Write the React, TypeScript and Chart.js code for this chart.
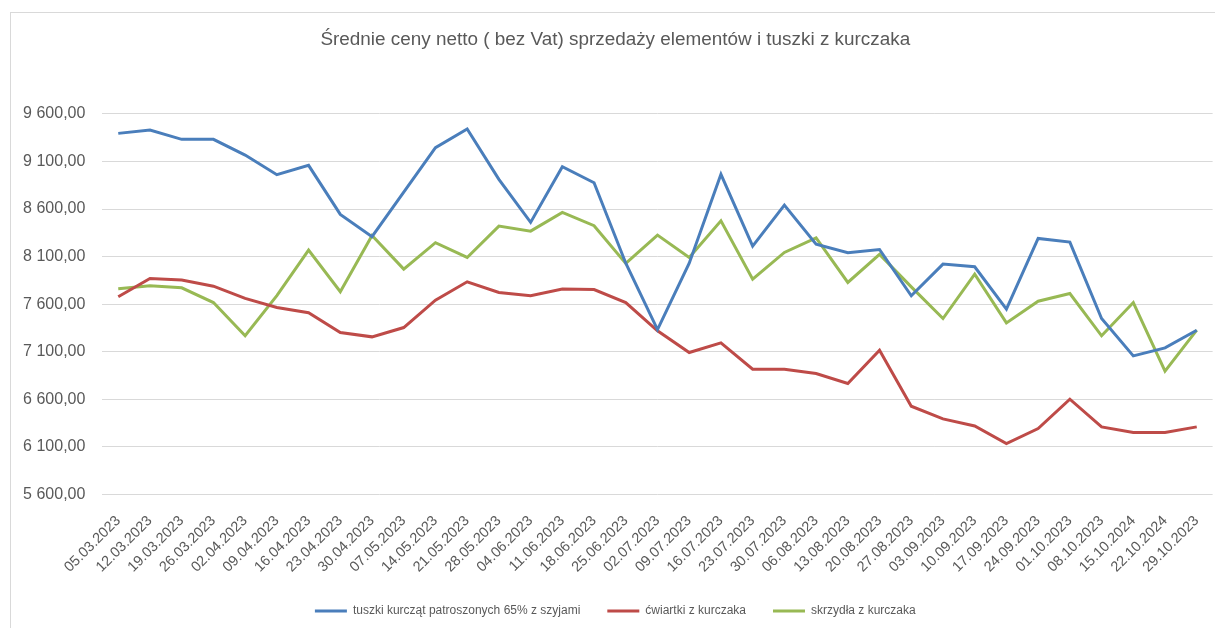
import React, { useEffect, useRef } from "react";
import { Chart, registerables } from "chart.js";

Chart.register(...registerables);

const TITLE = "Średnie ceny netto ( bez Vat) sprzedaży elementów i tuszki z kurczaka";

const categories: string[] = [
  "05.03.2023", "12.03.2023", "19.03.2023", "26.03.2023", "02.04.2023", "09.04.2023",
  "16.04.2023", "23.04.2023", "30.04.2023", "07.05.2023", "14.05.2023", "21.05.2023",
  "28.05.2023", "04.06.2023", "11.06.2023", "18.06.2023", "25.06.2023", "02.07.2023",
  "09.07.2023", "16.07.2023", "23.07.2023", "30.07.2023", "06.08.2023", "13.08.2023",
  "20.08.2023", "27.08.2023", "03.09.2023", "10.09.2023", "17.09.2023", "24.09.2023",
  "01.10.2023", "08.10.2023", "15.10.2024", "22.10.2024", "29.10.2023",
];

const seriesNames: string[] = [
  "tuszki kurcząt patroszonych 65% z szyjami",
  "ćwiartki z kurczaka",
  "skrzydła z kurczaka",
];

const tuszki: number[] = [
  9396, 9432, 9333, 9333, 9168, 8961, 9060, 8544, 8309, 8779,
  9246, 9442, 8912, 8460, 9046, 8877, 8030, 7333, 8030, 8965,
  8210, 8642, 8231, 8140, 8175, 7688, 8021, 7993, 7547, 8291,
  8253, 7449, 7056, 7140, 7326,
];

const cwiartki: number[] = [
  7677, 7870, 7853, 7789, 7660, 7565, 7509, 7302, 7256, 7354,
  7642, 7835, 7723, 7688, 7758, 7754, 7617, 7319, 7091, 7193,
  6916, 6916, 6870, 6765, 7116, 6526, 6393, 6319, 6133, 6291,
  6600, 6309, 6249, 6249, 6309,
];

const skrzydla: number[] = [
  7761, 7793, 7772, 7617, 7267, 7690, 8168, 7730, 8323, 7968,
  8246, 8091, 8421, 8368, 8565, 8425, 8028, 8326, 8091, 8477,
  7863, 8144, 8298, 7828, 8123, 7782, 7449, 7916, 7403, 7631,
  7712, 7267, 7617, 6895, 7326,
];

const seriesColors: string[] = ["#4a7ebb", "#be4b48", "#98b954"];

const Y_MIN = 5600;
const Y_MAX = 9600;
const Y_STEP = 500;

const FONT = "'Liberation Sans', Arial, sans-serif";
const TEXT = "#595959";
const GRID = "#d9d9d9";

function formatPl(v: number): string {
  const n = Math.round(v);
  const s = String(n).replace(/\B(?=(\d{3})+(?!\d))/g, " ");
  return s + ",00";
}

export default function App() {
  const ref = useRef<HTMLCanvasElement | null>(null);

  useEffect(() => {
    const canvas = ref.current;
    if (!canvas) return;
    const values = [tuszki, cwiartki, skrzydla];
    const chart = new Chart(canvas, {
      type: "line",
      data: {
        labels: categories,
        datasets: values.map((d, i) => ({
          label: seriesNames[i],
          data: d,
          borderColor: seriesColors[i],
          backgroundColor: seriesColors[i],
          borderWidth: 3,
          pointRadius: 0,
          tension: 0,
          fill: false,
        })),
      },
      options: {
        responsive: false,
        animation: false,
        layout: { padding: { top: 0, left: 18, right: 2.4, bottom: 1 } },
        plugins: {
          title: {
            display: true,
            text: TITLE,
            color: TEXT,
            font: { family: FONT, size: 18.9, weight: "normal" },
            padding: { top: 28.2, bottom: 63.1 },
          },
          legend: {
            display: true,
            position: "bottom",
            labels: {
              color: TEXT,
              font: { family: FONT, size: 12 },
              boxWidth: 32,
              boxHeight: 3,
              padding: 27,
              generateLabels: (c: any) =>
                Chart.defaults.plugins.legend.labels
                  .generateLabels(c)
                  .map((l: any) => ({ ...l, lineWidth: 0 })),
            },
          },
          tooltip: { enabled: false },
        },
        scales: {
          x: {
            type: "category",
            offset: true,
            grid: { display: false, drawTicks: false },
            border: { display: false },
            ticks: {
              color: TEXT,
              font: { family: FONT, size: 14.5 },
              autoSkip: false,
              maxRotation: 45,
              minRotation: 45,
              padding: 18,
            },
            afterFit: (scale: any) => {
              scale.height = 627 - 22 - 27 - 494.3;
              scale.paddingRight = 0;
              scale.paddingLeft = 0;
            },
          },
          y: {
            type: "linear",
            min: Y_MIN,
            max: Y_MAX,
            grid: { color: GRID, lineWidth: 1, drawTicks: false },
            border: { display: false },
            ticks: {
              stepSize: Y_STEP,
              color: TEXT,
              font: { family: FONT, size: 16 },
              padding: 17,
              callback: (v: any) => formatPl(Number(v)),
            },
            afterFit: (scale: any) => {
              scale.width = 84.4;
            },
          },
        },
      },
    });
    return () => chart.destroy();
  }, []);

  return (
    <div
      style={{
        position: "fixed",
        left: 0,
        top: 0,
        width: 1215,
        height: 628,
        overflow: "hidden",
        background: "#ffffff",
      }}
    >
      <div
        style={{
          position: "absolute",
          left: 10,
          top: 12,
          width: 1300,
          height: 700,
          border: "1px solid #d9d9d9",
          boxSizing: "border-box",
        }}
      />
      <canvas
        ref={ref}
        width={1215}
        height={628}
        style={{ position: "absolute", left: 0, top: 0 }}
      />
    </div>
  );
}
